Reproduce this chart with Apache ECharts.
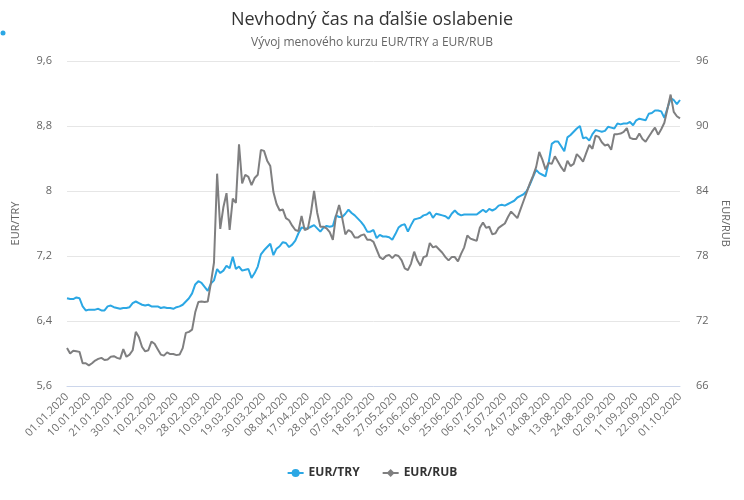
<!DOCTYPE html>
<html>
<head>
<meta charset="utf-8">
<script src="https://cdn.jsdelivr.net/npm/echarts@6/dist/echarts.min.js"></script>
<style>
  html, body { margin: 0; padding: 0; background: #fff; }
  #chart { width: 744px; height: 500px; }
</style>
</head>
<body>
<div id="chart"></div>
<script>
// business days 01.01.2020 - 01.10.2020
var startDay = new Date(2020, 0, 1);
var endDay = new Date(2020, 9, 1);

var tryValues = [
  6.68, 6.67, 6.67, 6.69, 6.68, 6.58, 6.53, 6.54, 6.54, 6.54,
  6.55, 6.53, 6.53, 6.58, 6.59, 6.57, 6.56, 6.55, 6.56, 6.56,
  6.57, 6.62, 6.64, 6.62, 6.60, 6.59, 6.60, 6.58, 6.58, 6.58,
  6.56, 6.57, 6.56, 6.56, 6.55, 6.57, 6.58, 6.60, 6.64, 6.68,
  6.74, 6.85, 6.89, 6.87, 6.82, 6.77, 6.86, 6.90, 7.04, 6.99,
  7.02, 7.08, 7.05, 7.19, 7.04, 7.07, 7.02, 7.03, 7.04, 6.93,
  6.99, 7.07, 7.22, 7.27, 7.31, 7.35, 7.21, 7.29, 7.32, 7.37,
  7.36, 7.31, 7.34, 7.39, 7.48, 7.55, 7.54, 7.54, 7.56, 7.58,
  7.54, 7.50, 7.55, 7.57, 7.56, 7.57, 7.70, 7.68, 7.68, 7.72,
  7.77, 7.73, 7.70, 7.66, 7.62, 7.57, 7.50, 7.50, 7.52, 7.42,
  7.46, 7.44, 7.44, 7.43, 7.40, 7.47, 7.55, 7.58, 7.59, 7.50,
  7.58, 7.65, 7.66, 7.67, 7.70, 7.71, 7.74, 7.67, 7.72, 7.71,
  7.70, 7.69, 7.66, 7.72, 7.76, 7.72, 7.70, 7.71, 7.71, 7.71,
  7.71, 7.71, 7.74, 7.77, 7.74, 7.78, 7.76, 7.78, 7.82, 7.83,
  7.82, 7.84, 7.86, 7.88, 7.92, 7.94, 7.96, 8.00, 8.08, 8.17,
  8.26, 8.22, 8.20, 8.18, 8.35, 8.58, 8.61, 8.61, 8.55, 8.49,
  8.66, 8.69, 8.73, 8.77, 8.80, 8.65, 8.66, 8.62, 8.70, 8.75,
  8.74, 8.73, 8.74, 8.79, 8.78, 8.77, 8.83, 8.82, 8.83, 8.83,
  8.85, 8.81, 8.87, 8.89, 8.88, 8.87, 8.95, 8.96, 8.99, 8.99,
  8.98, 8.90, 9.02, 9.14, 9.12, 9.07, 9.12
];

var rubValues = [
  69.5, 69.0, 69.25, 69.2, 69.15, 68.1, 68.1, 67.9, 68.1, 68.35,
  68.5, 68.6, 68.4, 68.45, 68.7, 68.75, 68.6, 68.5, 69.4, 68.7,
  68.9, 69.3, 71.0, 70.5, 69.6, 69.2, 69.3, 70.1, 69.9, 69.4,
  68.9, 68.8, 69.1, 68.95, 68.95, 68.85, 68.9, 69.5, 70.9, 71.0,
  71.2, 72.8, 73.75, 73.8, 73.75, 73.8, 75.5, 77.4, 85.6, 80.5,
  82.5, 83.8, 80.4, 83.3, 82.9, 88.3, 84.7, 85.5, 85.3, 84.55,
  85.2, 85.5, 87.8, 87.7, 86.8, 86.3, 83.9, 82.8, 82.2, 82.3,
  81.5, 81.3, 80.8, 80.4, 80.3, 81.7, 80.4, 80.5, 82.0, 84.0,
  82.0, 80.7, 80.7, 80.55, 80.2, 79.5, 81.7, 82.7, 81.5, 80.0,
  80.4, 80.2, 79.7, 79.7, 79.9, 80.0, 79.5, 79.5, 79.3, 78.6,
  77.9, 77.7, 78.0, 78.1, 77.8, 78.1, 78.0, 77.6, 76.85, 76.7,
  77.3, 78.4, 77.6, 77.1, 77.9, 78.0, 79.2, 78.8, 78.9, 78.6,
  78.3, 77.9, 77.6, 77.9, 77.9, 77.5, 78.2, 78.8, 79.9, 79.6,
  79.5, 79.4, 80.6, 81.1, 80.6, 80.7, 80.0, 80.1, 80.6, 80.8,
  81.0, 81.6, 82.1, 81.8, 81.5, 82.3, 83.1, 83.9, 84.7, 85.4,
  86.2, 87.6, 86.9, 86.0, 86.6, 86.5, 87.2, 86.7, 86.2, 85.8,
  86.8, 86.3, 86.5, 87.4, 87.1, 86.7, 87.5, 88.25, 87.9, 89.1,
  89.0, 88.5, 88.2, 88.3, 87.8, 89.25, 89.25, 89.3, 89.45, 89.8,
  88.9, 88.8, 88.8, 89.3, 88.8, 88.55, 89.0, 89.45, 89.85, 89.2,
  89.7, 90.3, 91.6, 92.9, 91.3, 90.9, 90.7
];

var seriesNames = ['EUR/TRY', 'EUR/RUB'];
var seriesColors = ['#2ba7e4', '#7f7f80'];

function pad(n) { return n < 10 ? '0' + n : '' + n; }

var dates = [];
for (var d = new Date(startDay); d <= endDay; d.setDate(d.getDate() + 1)) {
    var wd = d.getDay();
    if (wd === 0 || wd === 6) continue;
    dates.push(pad(d.getDate()) + '.' + pad(d.getMonth() + 1) + '.' + d.getFullYear());
}

var fontFam = '"Open Sans", sans-serif';

var chart = echarts.init(document.getElementById('chart'));

var option = {
    animation: false,
    title: {
        text: 'Nevhodný čas na ďalšie oslabenie',
        subtext: 'Vývoj menového kurzu EUR/TRY a EUR/RUB',
        left: 'center',
        top: 6,
        itemGap: 8,
        textStyle: { fontFamily: fontFam, fontSize: 18, fontWeight: 'normal', color: '#333333' },
        subtextStyle: { fontFamily: fontFam, fontSize: 12, color: '#666666' }
    },
    graphic: [{
        type: 'circle',
        shape: { cx: 3, cy: 33, r: 2.5 },
        style: { fill: '#2ba7e4' }
    }],
    legend: {
        bottom: 16,
        left: 'center',
        itemWidth: 16,
        itemHeight: 10,
        itemGap: 22,
        data: seriesNames,
        textStyle: { fontFamily: fontFam, fontSize: 12, fontWeight: 'bold', color: '#333333' }
    },
    grid: { left: 67, right: 64, top: 61, bottom: 114 },
    xAxis: {
        type: 'category',
        boundaryGap: false,
        data: dates,
        axisLine: { lineStyle: { color: '#ccd6eb' } },
        axisTick: { show: false },
        axisLabel: {
            interval: 6,
            rotate: 45,
            margin: 9,
            fontFamily: fontFam,
            fontSize: 11,
            color: '#6e6e6e'
        },
        splitLine: { show: false }
    },
    yAxis: [{
        type: 'value',
        min: 5.6,
        max: 9.6,
        interval: 0.8,
        name: 'EUR/TRY',
        nameLocation: 'middle',
        nameGap: 46,
        nameTextStyle: { fontFamily: fontFam, fontSize: 11, color: '#666666' },
        axisLine: { show: false },
        axisTick: { show: false },
        axisLabel: {
            margin: 15,
            fontFamily: fontFam,
            fontSize: 11,
            color: '#666666',
            formatter: function (v) { return String(+v.toFixed(1)).replace('.', ','); }
        },
        splitLine: { lineStyle: { color: '#e6e6e6' } }
    }, {
        type: 'value',
        min: 66,
        max: 96,
        interval: 6,
        position: 'right',
        name: 'EUR/RUB',
        nameLocation: 'middle',
        nameRotate: -90,
        nameGap: 38,
        nameTextStyle: { fontFamily: fontFam, fontSize: 11, color: '#666666' },
        axisLine: { show: false },
        axisTick: { show: false },
        axisLabel: { margin: 16, fontFamily: fontFam, fontSize: 11, color: '#666666' },
        splitLine: { show: false }
    }],
    series: [{
        name: seriesNames[0],
        type: 'line',
        yAxisIndex: 0,
        data: tryValues,
        symbol: 'circle',
        symbolSize: 7,
        showSymbol: false,
        color: seriesColors[0],
        lineStyle: { width: 2 }
    }, {
        name: seriesNames[1],
        type: 'line',
        yAxisIndex: 1,
        data: rubValues,
        symbol: 'diamond',
        symbolSize: 8,
        showSymbol: false,
        color: seriesColors[1],
        lineStyle: { width: 2 }
    }]
};

chart.setOption(option);
</script>
</body>
</html>
